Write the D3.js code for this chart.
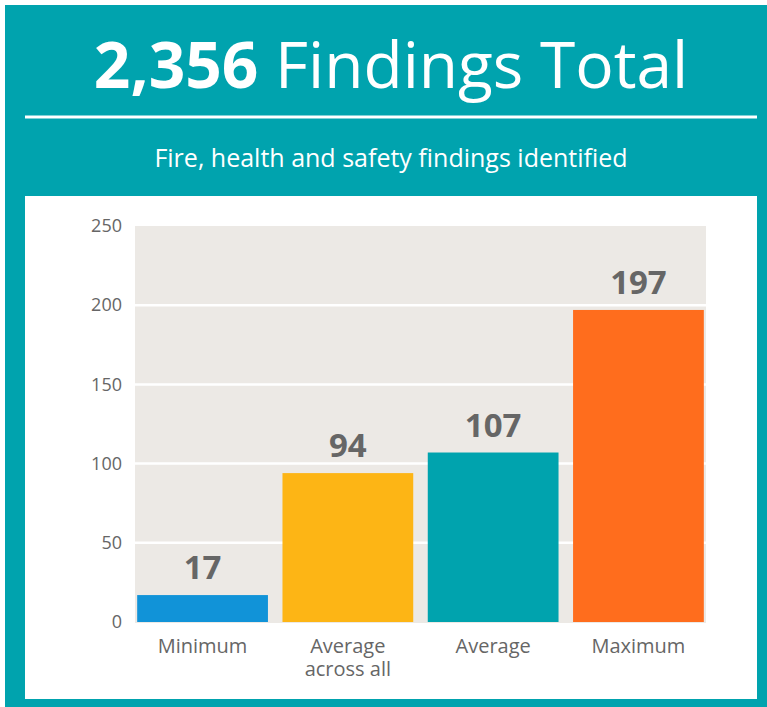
<!DOCTYPE html>
<html>
<head>
<meta charset="utf-8">
<script src="https://cdn.jsdelivr.net/npm/d3@7"></script>
<style>
  body { margin: 0; background: #fff; }
  text { font-family: "Open Sans", "Noto Sans", sans-serif; }
</style>
</head>
<body>
<div id="chart"></div>
<script>
var width = 767;
var height = 707;

// data
var categories = ['Minimum', 'Average across all', 'Average', 'Maximum'];
var labelLines = [['Minimum'], ['Average', 'across all'], ['Average'], ['Maximum']];
var values = [17, 94, 107, 197];
var barColors = ['#1193d8', '#fdb515', '#00a3ae', '#ff6d1d'];
var yTicks = [0, 50, 100, 150, 200, 250];
var totalCount = '2,356';
var titleRest = 'Findings Total';
var subtitle = 'Fire, health and safety findings identified';

var teal = '#00a3ae';

var svg = d3.select('#chart').append('svg')
            .attr('width', width).attr('height', height);

// teal frame
svg.append('rect')
    .attr('x', 5).attr('y', 5)
    .attr('width', width - 5).attr('height', height - 5)
    .attr('fill', teal);

// title
var title = svg.append('text')
    .attr('x', 391).attr('y', 88)
    .attr('text-anchor', 'middle')
    .attr('fill', '#fff')
    .attr('font-size', '64px');
title.append('tspan').attr('font-weight', 700).text(totalCount);
title.append('tspan').attr('font-weight', 400).text(' ' + titleRest);

svg.append('line')
    .attr('x1', 25).attr('x2', 757)
    .attr('y1', 117).attr('y2', 117)
    .attr('stroke', '#fff').attr('stroke-width', 3);

svg.append('text')
    .attr('x', 391).attr('y', 167)
    .attr('text-anchor', 'middle')
    .attr('fill', '#fff')
    .attr('font-size', '25px')
    .text(subtitle);

// white panel
svg.append('rect')
    .attr('x', 25).attr('y', 196)
    .attr('width', 732).attr('height', 503)
    .attr('fill', '#fff');

// chart
var plot = {left: 135, right: 706, top: 226, bottom: 622};

var x = d3.scaleBand()
    .domain(categories)
    .range([plot.left, plot.right])
    .paddingInner(0.1)
    .paddingOuter(0.015);

var y = d3.scaleLinear()
    .domain([0, 250])
    .range([plot.bottom, plot.top]);

var g = svg.append('g');

g.append('rect')
    .attr('x', plot.left).attr('y', plot.top)
    .attr('width', plot.right - plot.left)
    .attr('height', plot.bottom - plot.top + 1)
    .attr('fill', '#ece9e5');

// gridlines
g.selectAll('.grid').data(yTicks.filter(function(d){ return d > 0 && d < 250; }))
  .enter().append('line')
    .attr('class', 'grid')
    .attr('x1', plot.left).attr('x2', plot.right)
    .attr('y1', function(d){ return y(d); })
    .attr('y2', function(d){ return y(d); })
    .attr('stroke', '#fff').attr('stroke-width', 2.5);

// y axis
var yAxis = d3.axisLeft(y).tickValues(yTicks).tickSize(0).tickPadding(13);
var ya = g.append('g')
    .attr('transform', 'translate(' + plot.left + ',0)')
    .call(yAxis);
ya.select('.domain').remove();
ya.selectAll('text')
    .attr('fill', '#666')
    .attr('font-size', '18px')
    .style('font-family', '"Open Sans", sans-serif');

// bars
g.selectAll('.bar').data(values)
  .enter().append('rect')
    .attr('class', 'bar')
    .attr('x', function(d, i){ return x(categories[i]); })
    .attr('y', function(d){ return y(d); })
    .attr('width', x.bandwidth())
    .attr('height', function(d){ return y(0) - y(d); })
    .attr('fill', function(d, i){ return barColors[i]; });

// value labels
g.selectAll('.val').data(values)
  .enter().append('text')
    .attr('class', 'val')
    .attr('x', function(d, i){ return x(categories[i]) + x.bandwidth() / 2; })
    .attr('y', function(d){ return y(d) - 16; })
    .attr('text-anchor', 'middle')
    .attr('fill', '#666')
    .attr('font-size', '33px')
    .attr('font-weight', 700)
    .text(function(d){ return d; });

// x labels, one text per line
labelLines.forEach(function(lines, i){
  g.selectAll('.xl' + i).data(lines)
    .enter().append('text')
      .attr('class', 'xl xl' + i)
      .attr('x', x(categories[i]) + x.bandwidth() / 2)
      .attr('y', function(d, j){ return 653 + j * 23; })
      .attr('text-anchor', 'middle')
      .attr('fill', '#666')
      .attr('font-size', '20px')
      .text(function(d){ return d; });
});
</script>
</body>
</html>
